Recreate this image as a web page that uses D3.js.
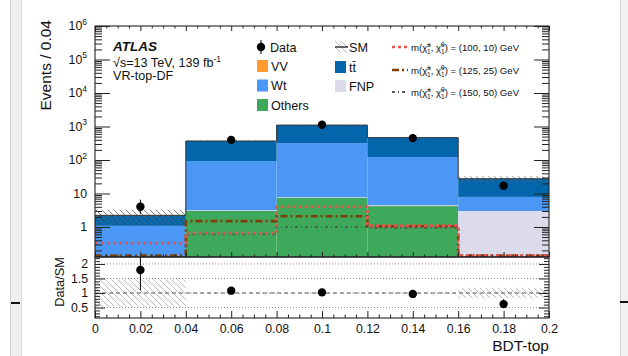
<!DOCTYPE html>
<html>
<head>
<meta charset="utf-8">
<script src="https://cdn.jsdelivr.net/npm/d3@7"></script>
<style>
body{margin:0;background:#fff;}
svg{display:block;font-family:"Liberation Sans",Arial,Helvetica,sans-serif;}
</style>
</head>
<body>
<svg id="chart" width="628" height="356"></svg>
<script>
// BDT-top bins (VR-top-DF)
var binEdges = [0, 0.04, 0.08, 0.12, 0.16, 0.2];
var xTicks = [0, 0.02, 0.04, 0.06, 0.08, 0.1, 0.12, 0.14, 0.16, 0.18, 0.2];
var data = [4, 398, 1125, 450, 17];
var others = [0.05, 3.0, 7.4, 4.2, 0.12];
var vv = [0.01, 0.05, 0.1, 0.05, 0.01];
var fnp = [0.02, 0.1, 0.2, 0.2, 2.87];
var wt = [1.0, 90, 312, 118, 4.9];
var ttbar = [1.15, 275, 780, 342, 19.6];
var relUnc = [0.47, 0.04, 0.03, 0.04, 0.18];
var sig100_10 = [0.33, 0.66, 4.0, 1.1, 0.14];
var sig125_25 = [0.14, 1.5, 2.1, 1.05, 0.14];
var sig150_50 = [0.12, 0.6, 1.0, 0.95, 0.13];
var signalLabels = ['100, 10', '125, 25', '150, 50'];
var yPowers = [0, 1, 2, 3, 4, 5, 6];
var ratioTicks = [0.5, 1, 1.5, 2];

var colors = {others:'#3fa95b', vv:'#ff9a2f', fnp:'#dcdbeb', wt:'#4b97f6', ttbar:'#0466aa'};
var sigColors = ['#e4544b', '#7c4008', '#5a5a5a'];
var sigDash = ['3,3', '7,3,2,3', '3,3,1,3'];
var sigWidth = [2.6, 2.6, 1.8];

var pLeft = 95, pRight = 549, pTop = 26, pMid = 257, pBottom = 318;
var ymin = 0.127;

var svg = d3.select('#chart');

// screenshot edges
svg.append('rect').attr('x',10).attr('y',0).attr('width',12).attr('height',356).attr('fill','#efefef');
svg.append('line').attr('x1',10.5).attr('x2',10.5).attr('y1',0).attr('y2',356).attr('stroke','#d4d4d4');
svg.append('line').attr('x1',21.5).attr('x2',21.5).attr('y1',0).attr('y2',356).attr('stroke','#dcdcdc');
svg.append('rect').attr('x',11).attr('y',302).attr('width',9).attr('height',2).attr('fill','#111');
svg.append('rect').attr('x',620).attr('y',0).attr('width',8).attr('height',356).attr('fill','#f2f2f2');
svg.append('line').attr('x1',620.5).attr('x2',620.5).attr('y1',0).attr('y2',356).attr('stroke','#d4d4d4');
svg.append('rect').attr('x',620).attr('y',301).attr('width',8).attr('height',2).attr('fill','#111');

var defs = svg.append('defs');
var hatch = defs.append('pattern').attr('id','hatch').attr('patternUnits','userSpaceOnUse')
  .attr('width',6).attr('height',6);
hatch.append('path').attr('d','M0,0L6,6M-1,5L1,7M5,-1L7,1').attr('stroke','#666').attr('stroke-width',0.8);
var hatchLight = defs.append('pattern').attr('id','hatchLight').attr('patternUnits','userSpaceOnUse')
  .attr('width',6).attr('height',6);
hatchLight.append('path').attr('d','M0,0L6,6M-1,5L1,7M5,-1L7,1').attr('stroke','#aaa').attr('stroke-width',0.8);
defs.append('clipPath').attr('id','clipTop').append('rect')
  .attr('x',pLeft).attr('y',pTop).attr('width',pRight-pLeft).attr('height',pMid-pTop);
defs.append('clipPath').attr('id','clipRatio').append('rect')
  .attr('x',pLeft).attr('y',pMid).attr('width',pRight-pLeft).attr('height',pBottom-pMid);

var x = d3.scaleLinear().domain([0, 0.2]).range([pLeft, pRight]);
var y = d3.scaleLog().domain([ymin, 1e6]).range([pMid, pTop]);
var yr = d3.scaleLinear().domain([0.14, 2.24]).range([pBottom, pMid]);
function yc(v){ return y(Math.max(v, ymin)); }

var bins = binEdges.slice(0, -1).map(function(lo, i){
  return {lo:lo, hi:binEdges[i+1], others:others[i], vv:vv[i], fnp:fnp[i], wt:wt[i], ttbar:ttbar[i], data:data[i], unc:relUnc[i]};
});
bins.forEach(function(b){ b.total = b.others + b.vv + b.fnp + b.wt + b.ttbar; });

var keys = ['others', 'vv', 'fnp', 'wt', 'ttbar'];
var layers = d3.stack().keys(keys)(bins);

var topG = svg.append('g').attr('clip-path','url(#clipTop)');

layers.forEach(function(layer){
  topG.selectAll(null)
    .data(layer)
    .enter()
    .append('rect')
    .attr('x', function(d){ return x(d.data.lo); })
    .attr('width', function(d){ return x(d.data.hi) - x(d.data.lo); })
    .attr('y', function(d){ return yc(d[1]); })
    .attr('height', function(d){ return yc(d[0]) - yc(d[1]); })
    .attr('fill', colors[layer.key]);
});

// uncertainty band
topG.selectAll('.band')
  .data(bins)
  .enter()
  .append('rect')
  .attr('x', function(d){ return x(d.lo); })
  .attr('width', function(d){ return x(d.hi) - x(d.lo); })
  .attr('y', function(d){ return yc(d.total*(1+d.unc)); })
  .attr('height', function(d){ return yc(d.total*(1-d.unc)) - yc(d.total*(1+d.unc)); })
  .attr('fill', 'url(#hatch)');

function stepPoints(vals){
  var pts = [];
  vals.forEach(function(v, i){
    pts.push([x(binEdges[i]), yc(v)]);
    pts.push([x(binEdges[i+1]), yc(v)]);
  });
  return pts;
}
var line = d3.line();

topG.append('path')
  .attr('d', line(stepPoints(bins.map(function(b){ return b.total; }))))
  .attr('fill','none').attr('stroke','#333').attr('stroke-width',1);

[sig150_50, sig125_25, sig100_10].forEach(function(s, k){
  var i = 2 - k;
  topG.append('path')
    .attr('d', line(stepPoints(s)))
    .attr('fill','none')
    .attr('stroke', sigColors[i])
    .attr('stroke-width', sigWidth[i])
    .attr('stroke-dasharray', sigDash[i]);
});

// data points
function errUp(n){ return n + Math.sqrt(n + 0.25) + 0.5; }
function errDn(n){ return n - Math.sqrt(n + 0.25) + 0.5; }
var dataG = svg.append('g');
dataG.selectAll('.err')
  .data(bins)
  .enter()
  .append('line')
  .attr('x1', function(d){ return x((d.lo+d.hi)/2); })
  .attr('x2', function(d){ return x((d.lo+d.hi)/2); })
  .attr('y1', function(d){ return yc(errUp(d.data)); })
  .attr('y2', function(d){ return yc(errDn(d.data)); })
  .attr('stroke','#000').attr('stroke-width',1);
dataG.selectAll('.pt')
  .data(bins)
  .enter()
  .append('circle')
  .attr('cx', function(d){ return x((d.lo+d.hi)/2); })
  .attr('cy', function(d){ return y(d.data); })
  .attr('r', 4.2)
  .attr('fill','#000');

// ratio panel
var ratioG = svg.append('g').attr('clip-path','url(#clipRatio)');
ratioG.selectAll('.rband')
  .data(bins)
  .enter()
  .append('rect')
  .attr('x', function(d){ return x(d.lo); })
  .attr('width', function(d){ return x(d.hi) - x(d.lo); })
  .attr('y', function(d){ return yr(1+d.unc); })
  .attr('height', function(d){ return yr(1-d.unc) - yr(1+d.unc); })
  .attr('fill','url(#hatchLight)');
ratioG.selectAll('.grid')
  .data(ratioTicks)
  .enter()
  .append('line')
  .attr('x1', pLeft).attr('x2', pRight)
  .attr('y1', function(d){ return yr(d); })
  .attr('y2', function(d){ return yr(d); })
  .attr('stroke', function(d){ return d === 1 ? '#555' : '#888'; })
  .attr('stroke-width', 1)
  .attr('stroke-dasharray', function(d){ return d === 1 ? '4,3' : '1,2'; });
ratioG.selectAll('.rerr')
  .data(bins)
  .enter()
  .append('line')
  .attr('x1', function(d){ return x((d.lo+d.hi)/2); })
  .attr('x2', function(d){ return x((d.lo+d.hi)/2); })
  .attr('y1', function(d){ return yr(errUp(d.data)/d.total); })
  .attr('y2', function(d){ return yr(errDn(d.data)/d.total); })
  .attr('stroke','#000').attr('stroke-width',1);
ratioG.selectAll('.rpt')
  .data(bins)
  .enter()
  .append('circle')
  .attr('cx', function(d){ return x((d.lo+d.hi)/2); })
  .attr('cy', function(d){ return yr(d.data/d.total); })
  .attr('r', 4.2)
  .attr('fill','#000');

// axes
var majors = yPowers.map(function(p){ return Math.pow(10, p); });
var minors = [];
[-1].concat(yPowers).forEach(function(p){
  for (var m = 2; m < 10; m++) {
    var v = m*Math.pow(10, p);
    if (v > ymin && v < 1e6) minors.push(v);
  }
});
var xMinor = d3.range(0, 41).map(function(i){ return i*0.005; }).filter(function(v, i){ return i % 4 !== 0; });
var rMinor = d3.range(2, 23).map(function(i){ return i/10; }).filter(function(v){ return ratioTicks.indexOf(v) < 0; });

function noDomain(g){ g.select('.domain').remove(); g.selectAll('.tick line').attr('stroke','#222'); }
function addAxis(axis, tx, ty){
  svg.append('g').attr('transform','translate('+tx+','+ty+')').call(axis).call(noDomain);
}

addAxis(d3.axisLeft(y).tickValues(majors).tickSize(-15).tickFormat(''), pLeft, 0);
addAxis(d3.axisLeft(y).tickValues(minors).tickSize(-7).tickFormat(''), pLeft, 0);
addAxis(d3.axisRight(y).tickValues(majors).tickSize(-15).tickFormat(''), pRight, 0);
addAxis(d3.axisRight(y).tickValues(minors).tickSize(-7).tickFormat(''), pRight, 0);
addAxis(d3.axisBottom(x).tickValues(xTicks).tickSize(-5).tickFormat(''), 0, pMid);
addAxis(d3.axisBottom(x).tickValues(xMinor).tickSize(-2.5).tickFormat(''), 0, pMid);
addAxis(d3.axisTop(x).tickValues(xTicks).tickSize(-5).tickFormat(''), 0, pTop);
addAxis(d3.axisTop(x).tickValues(xMinor).tickSize(-2.5).tickFormat(''), 0, pTop);

addAxis(d3.axisLeft(yr).tickValues(ratioTicks).tickSize(-10).tickPadding(7)
  .tickFormat(function(d){ return String(d); }), pLeft, 0);
addAxis(d3.axisLeft(yr).tickValues(rMinor).tickSize(-5).tickFormat(''), pLeft, 0);
addAxis(d3.axisRight(yr).tickValues(ratioTicks).tickSize(-10).tickFormat(''), pRight, 0);
addAxis(d3.axisRight(yr).tickValues(rMinor).tickSize(-5).tickFormat(''), pRight, 0);
addAxis(d3.axisBottom(x).tickValues(xTicks).tickSize(-7).tickPadding(6)
  .tickFormat(function(d){ return String(+d.toFixed(2)); }), 0, pBottom);
addAxis(d3.axisBottom(x).tickValues(xMinor).tickSize(-3.5).tickFormat(''), 0, pBottom);

svg.selectAll('.tick text').attr('font-size', 12.3).attr('fill','#111')
  .attr('font-family','"Liberation Sans",Arial,sans-serif');

// log labels
var yLab = svg.append('g').attr('font-size', 12.3).attr('fill','#111').attr('text-anchor','end');
yPowers.forEach(function(p){
  var t = yLab.append('text').attr('x', pLeft - 8).attr('y', y(Math.pow(10, p)) + 4.3);
  if (p === 0) { t.text('1'); return; }
  t.append('tspan').text('10');
  if (p > 1) t.append('tspan').attr('dy', -5.5).attr('font-size', 8.5).text(p);
});

// frames
svg.append('rect').attr('x',pLeft).attr('y',pTop).attr('width',pRight-pLeft).attr('height',pMid-pTop)
  .attr('fill','none').attr('stroke','#222').attr('stroke-width',1.1);
svg.append('rect').attr('x',pLeft).attr('y',pMid).attr('width',pRight-pLeft).attr('height',pBottom-pMid)
  .attr('fill','none').attr('stroke','#222').attr('stroke-width',1.1);

// titles
svg.append('text').attr('transform','translate(51,20) rotate(-90)').attr('text-anchor','end')
  .attr('font-size',15.5).attr('fill','#111').text('Events / 0.04');
svg.append('text').attr('transform','translate(64,257) rotate(-90)').attr('text-anchor','end')
  .attr('font-size',12.8).attr('fill','#111').text('Data/SM');
svg.append('text').attr('x',pRight).attr('y',351).attr('text-anchor','end')
  .attr('font-size',15.5).attr('fill','#111').text('BDT-top');

var info = svg.append('g').attr('fill','#111');
info.append('text').attr('x',113).attr('y',50.5).attr('font-size',13.5)
  .attr('font-weight','bold').attr('font-style','italic').text('ATLAS');
var lumi = info.append('text').attr('x',113).attr('y',67).attr('font-size',12.6);
lumi.append('tspan').text('\u221As=13 TeV, 139 fb');
lumi.append('tspan').attr('dy',-5).attr('font-size',8.5).text('-1');
info.append('text').attr('x',113).attr('y',80).attr('font-size',12.6).text('VR-top-DF');

// legend
var leg = svg.append('g').attr('font-size',12.6).attr('fill','#111');
leg.append('line').attr('x1',261).attr('x2',261).attr('y1',40).attr('y2',54).attr('stroke','#000');
leg.append('circle').attr('cx',261).attr('cy',47).attr('r',4.2).attr('fill','#000');
leg.append('text').attr('x',270).attr('y',51.5).text('Data');
var boxRows = [
  {x:257, y:66, fill:colors.vv, label:'VV'},
  {x:257, y:85.5, fill:colors.wt, label:'Wt'},
  {x:257, y:105, fill:colors.others, label:'Others'},
  {x:335, y:67, fill:colors.ttbar, label:'tt\u0304'},
  {x:335, y:86, fill:colors.fnp, label:'FNP'}
];
boxRows.forEach(function(r){
  leg.append('rect').attr('x',r.x).attr('y',r.y-6).attr('width',11).attr('height',12).attr('fill',r.fill);
  leg.append('text').attr('x',r.x+14).attr('y',r.y+4.5).text(r.label);
});
leg.append('rect').attr('x',335).attr('y',41).attr('width',12).attr('height',12).attr('fill','url(#hatchLight)');
leg.append('line').attr('x1',335).attr('x2',348).attr('y1',47).attr('y2',47).attr('stroke','#000').attr('stroke-width',1.2);
leg.append('text').attr('x',349).attr('y',51.5).text('SM');

[47, 70, 92].forEach(function(yy, i){
  leg.append('line').attr('x1',392).attr('x2',408).attr('y1',yy).attr('y2',yy)
    .attr('stroke',sigColors[i]).attr('stroke-width',sigWidth[i]).attr('stroke-dasharray',sigDash[i]);
  var t = leg.append('text').attr('x',411).attr('y',yy+3.5).attr('font-size',9.6);
  t.append('tspan').text('m(\u03C7\u0303');
  t.append('tspan').attr('dy',-4).attr('font-size',6.5).text('\u00B1');
  t.append('tspan').attr('dx',-3.8).attr('dy',7).attr('font-size',6.5).text('1');
  t.append('tspan').attr('dy',-3).text(', \u03C7\u0303');
  t.append('tspan').attr('dy',-4).attr('font-size',6.5).text('0');
  t.append('tspan').attr('dx',-3.6).attr('dy',7).attr('font-size',6.5).text('1');
  t.append('tspan').attr('dy',-3).text(') = (' + signalLabels[i] + ') GeV');
});
</script>
</body>
</html>
